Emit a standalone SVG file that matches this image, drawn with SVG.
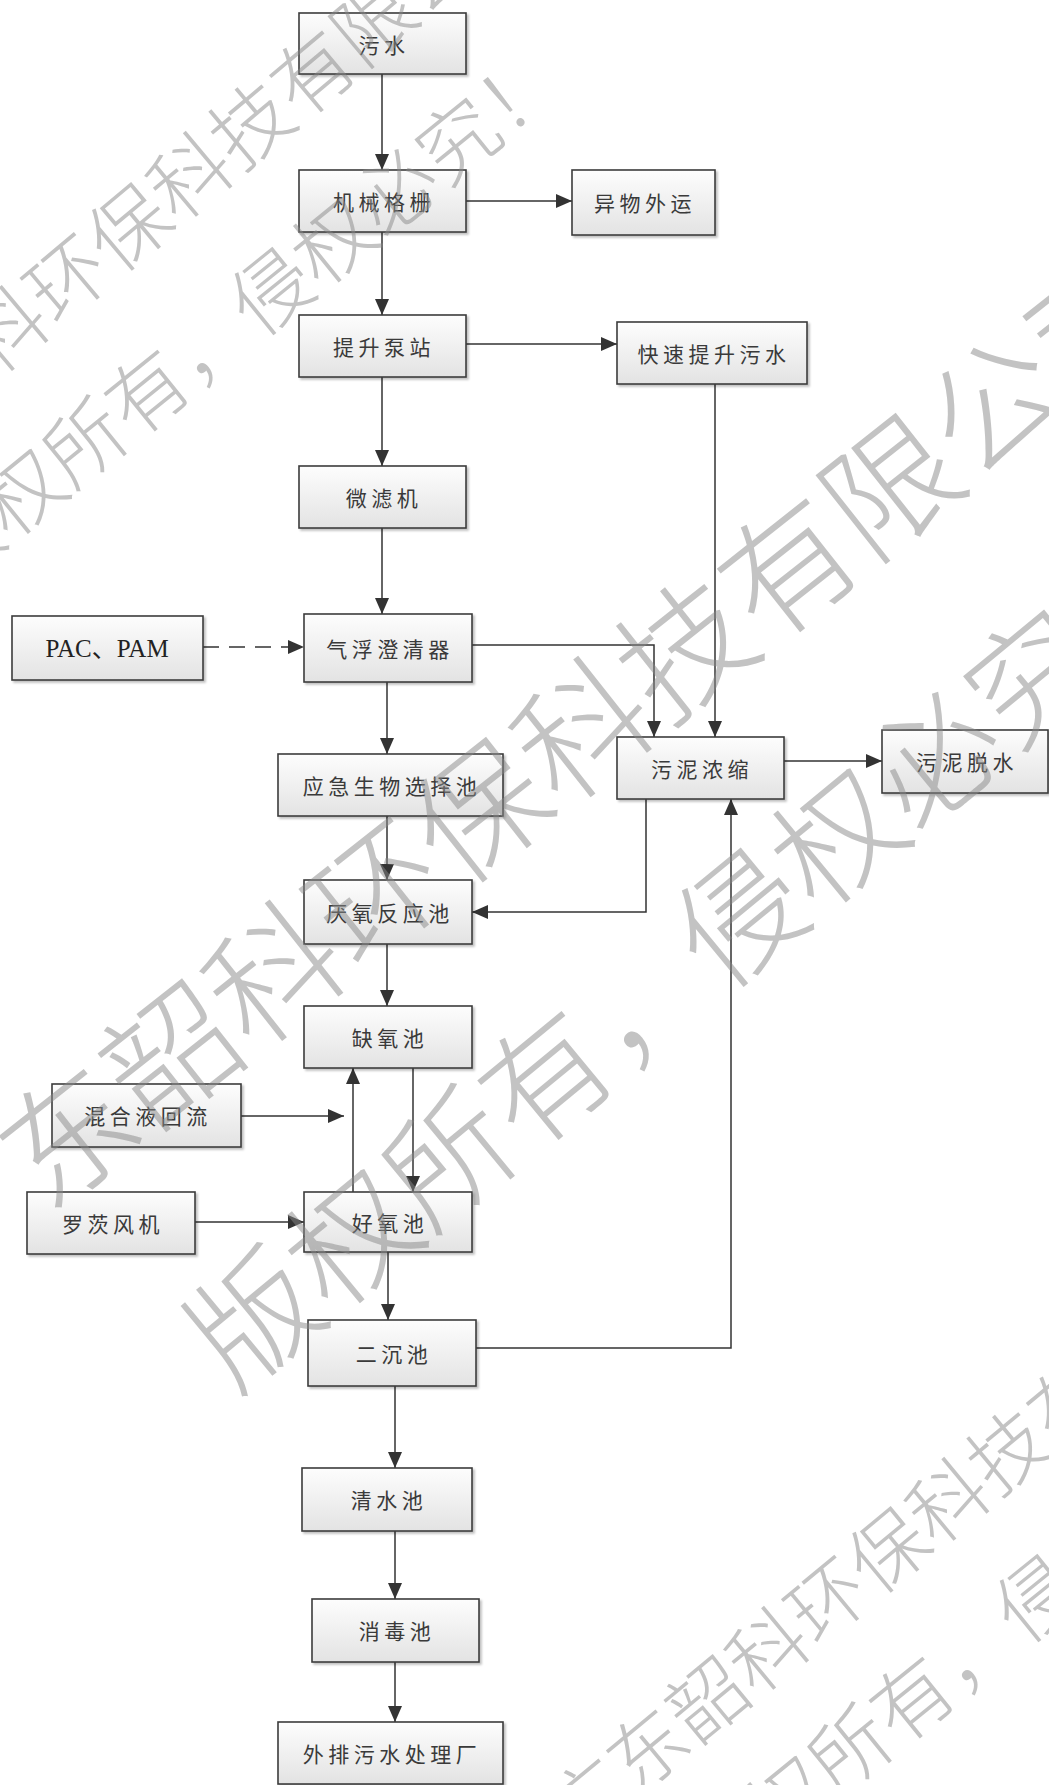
<svg xmlns="http://www.w3.org/2000/svg" width="1049" height="1785" viewBox="0 0 1049 1785">
<style>
.box{fill:url(#g);stroke:#3c3c3c;stroke-width:1.6;filter:url(#sh)}
.t{font-family:"Noto Sans CJK SC","Noto Sans CJK TC",sans-serif;font-size:21px;fill:#3a3a3a;text-anchor:middle;dominant-baseline:central;letter-spacing:4.5px}
.tl{font-family:"Liberation Serif","Noto Sans CJK SC",serif;font-size:25px;fill:#222;text-anchor:middle;dominant-baseline:central}
.c{fill:none;stroke:#333;stroke-width:1.5}
.w{font-family:"Noto Sans CJK SC",sans-serif;font-weight:300;fill:#888;fill-opacity:0.5;dominant-baseline:central}
</style>
<defs>
<linearGradient id="g" x1="0" y1="0" x2="0" y2="1">
<stop offset="0" stop-color="#fdfdfd"/>
<stop offset="1" stop-color="#e3e3e3"/>
</linearGradient>
<filter id="sh" x="-10%" y="-10%" width="130%" height="130%">
<feDropShadow dx="2" dy="2" stdDeviation="1" flood-color="#000" flood-opacity="0.25"/>
</filter>
<marker id="a" viewBox="0 0 16 14" refX="16" refY="7" markerWidth="16" markerHeight="14" markerUnits="userSpaceOnUse" orient="auto">
<path d="M0,0 L16,7 L0,14 Z" fill="#333"/>
</marker>
</defs>
<rect width="1049" height="1785" fill="#fff"/>

<g id="connectors">
<path class="c" d="M382,74 V170" marker-end="url(#a)"/>
<path class="c" d="M466,201 H572" marker-end="url(#a)"/>
<path class="c" d="M382,232 V315" marker-end="url(#a)"/>
<path class="c" d="M466,344 H617" marker-end="url(#a)"/>
<path class="c" d="M382,377 V466" marker-end="url(#a)"/>
<path class="c" d="M382,528 V614" marker-end="url(#a)"/>
<path class="c" d="M203,647 H304" stroke-dasharray="16 10" marker-end="url(#a)"/>
<path class="c" d="M472,645 H654 V737" marker-end="url(#a)"/>
<path class="c" d="M715,384 V737" marker-end="url(#a)"/>
<path class="c" d="M784,761 H882" marker-end="url(#a)"/>
<path class="c" d="M387,682 V754" marker-end="url(#a)"/>
<path class="c" d="M387,816 V880" marker-end="url(#a)"/>
<path class="c" d="M646,799 V912 H472" marker-end="url(#a)"/>
<path class="c" d="M387,944 V1006" marker-end="url(#a)"/>
<path class="c" d="M241,1116 H344" marker-end="url(#a)"/>
<path class="c" d="M353,1192 V1068" marker-end="url(#a)"/>
<path class="c" d="M413,1068 V1192" marker-end="url(#a)"/>
<path class="c" d="M195,1222 H304" marker-end="url(#a)"/>
<path class="c" d="M388,1252 V1320" marker-end="url(#a)"/>
<path class="c" d="M476,1348 H731 V799" marker-end="url(#a)"/>
<path class="c" d="M395,1386 V1468" marker-end="url(#a)"/>
<path class="c" d="M395,1531 V1599" marker-end="url(#a)"/>
<path class="c" d="M395,1662 V1722" marker-end="url(#a)"/>
</g>

<g id="n1"><rect class="box" x="299" y="13" width="167" height="61"/><text class="t" x="384" y="44">污水</text></g>
<g id="n2"><rect class="box" x="299" y="170" width="167" height="62"/><text class="t" x="384" y="201">机械格栅</text></g>
<g id="n3"><rect class="box" x="572" y="170" width="143" height="65"/><text class="t" x="645" y="202">异物外运</text></g>
<g id="n4"><rect class="box" x="299" y="315" width="167" height="62"/><text class="t" x="384" y="346">提升泵站</text></g>
<g id="n5"><rect class="box" x="617" y="322" width="190" height="62"/><text class="t" x="714" y="353">快速提升污水</text></g>
<g id="n6"><rect class="box" x="299" y="466" width="167" height="62"/><text class="t" x="384" y="497">微滤机</text></g>
<g id="n7"><rect class="box" x="12" y="616" width="191" height="64"/><text class="tl" x="107" y="648">PAC、PAM</text></g>
<g id="n8"><rect class="box" x="304" y="614" width="168" height="68"/><text class="t" x="390" y="648">气浮澄清器</text></g>
<g id="n9"><rect class="box" x="278" y="754" width="225" height="62"/><text class="t" x="392" y="785">应急生物选择池</text></g>
<g id="n10"><rect class="box" x="617" y="737" width="167" height="62"/><text class="t" x="702" y="768">污泥浓缩</text></g>
<g id="n11"><rect class="box" x="882" y="730" width="166" height="63"/><text class="t" x="967" y="761">污泥脱水</text></g>
<g id="n12"><rect class="box" x="304" y="880" width="168" height="64"/><text class="t" x="390" y="912">厌氧反应池</text></g>
<g id="n13"><rect class="box" x="304" y="1006" width="168" height="62"/><text class="t" x="390" y="1037">缺氧池</text></g>
<g id="n14"><rect class="box" x="52" y="1084" width="189" height="63"/><text class="t" x="148" y="1115">混合液回流</text></g>
<g id="n15"><rect class="box" x="27" y="1192" width="168" height="62"/><text class="t" x="113" y="1223">罗茨风机</text></g>
<g id="n16"><rect class="box" x="304" y="1192" width="168" height="60"/><text class="t" x="390" y="1222">好氧池</text></g>
<g id="n17"><rect class="box" x="308" y="1320" width="168" height="66"/><text class="t" x="394" y="1353">二沉池</text></g>
<g id="n18"><rect class="box" x="302" y="1468" width="170" height="63"/><text class="t" x="389" y="1499">清水池</text></g>
<g id="n19"><rect class="box" x="312" y="1599" width="167" height="63"/><text class="t" x="397" y="1630">消毒池</text></g>
<g id="n20"><rect class="box" x="278" y="1722" width="225" height="62"/><text class="t" x="392" y="1753">外排污水处理厂</text></g>

<g id="watermark">
<text class="w" font-size="80" x="-212" y="506" transform="rotate(-40 -212 506)">广东韶科环保科技有限公司</text>
<text class="w" font-size="80" x="-74" y="564" transform="rotate(-39 -74 564)">版权所有，侵权必究！</text>
<text class="w" font-size="131" x="-91" y="1251" transform="rotate(-38.3 -91 1251)">广东韶科环保科技有限公司</text>
<text class="w" font-size="126" x="200" y="1352" transform="rotate(-39.5 200 1352)">版权所有，侵权必究！</text>
<text class="w" font-size="78" x="554" y="1820" transform="rotate(-39.6 554 1820)">广东韶科环保科技有限公司</text>
<text class="w" font-size="80" x="691" y="1871" transform="rotate(-39 691 1871)">版权所有，侵权必究！</text>
</g>
</svg>
